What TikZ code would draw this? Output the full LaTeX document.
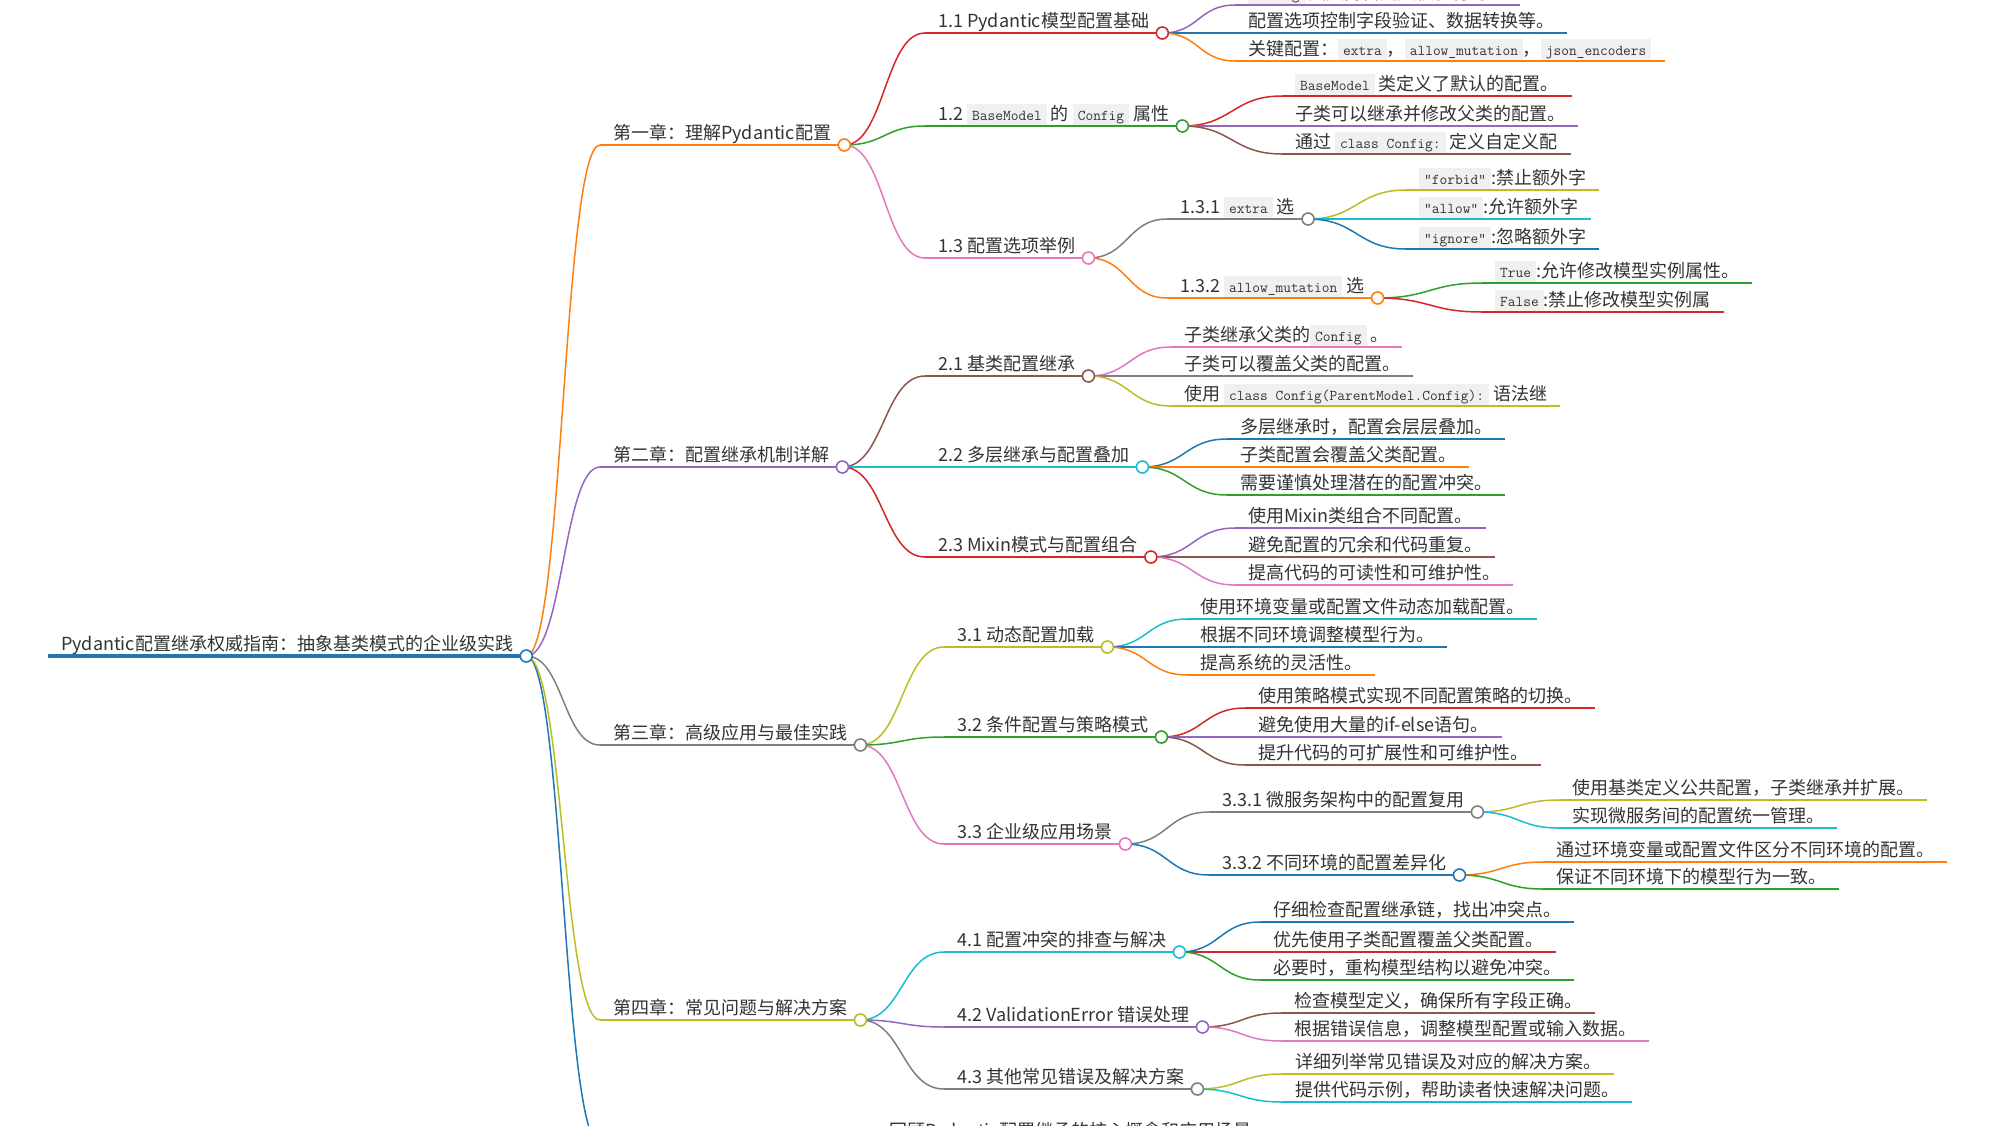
\documentclass[tikz,border=0pt]{standalone}
\usepackage{fontspec}
\setmainfont{Noto Sans CJK SC}
\usetikzlibrary{calc}
\definecolor{mBlue}{HTML}{1F77B4}
\definecolor{mOrange}{HTML}{FF7F0E}
\definecolor{mGreen}{HTML}{2CA02C}
\definecolor{mRed}{HTML}{D62728}
\definecolor{mPurple}{HTML}{9467BD}
\definecolor{mBrown}{HTML}{8C564B}
\definecolor{mPink}{HTML}{E377C2}
\definecolor{mGrey}{HTML}{7F7F7F}
\definecolor{mOlive}{HTML}{BCBD22}
\definecolor{mCyan}{HTML}{17BECF}
\definecolor{codeBg}{HTML}{F0F0F0}
\definecolor{inkText}{HTML}{333333}
\newcommand{\codebox}[1]{{\setlength{\fboxsep}{0pt}\colorbox{codeBg}{\rule[-5.5pt]{0pt}{22pt}\hspace{5pt}\ttfamily\fontsize{15}{16}\selectfont #1\hspace{5pt}}}}

\begin{document}
\begin{tikzpicture}[
    x=1pt, y=-1pt,
    every node/.style = {font=\fontsize{18}{21}\selectfont, text=inkText},
    topic/.style      = {anchor=south west, inner xsep=13pt, inner ysep=5.5pt,
                         text depth=0pt},
    rootline/.style   = {line width=4pt},
    chline/.style     = {line width=2.5pt},
    subline/.style    = {line width=2pt},
    leafline/.style   = {line width=1.5pt},
    link/.style       = {line width=1.5pt},
    dot/.style        = {circle, draw, fill=white, line width=1.6pt,
                         minimum size=12pt, inner sep=0pt},
    mm/.style         = {to path={let \p1=(\tikztostart), \p2=(\tikztotarget) in
                         .. controls ({(\x1+\x2)/2},\y1) and ({(\x1+\x2)/2},\y2) .. (\tikztotarget)}},
  ]
  \useasboundingbox (0,0) rectangle (2000,1125);
  \clip (0,0) rectangle (2000,1125);
  \fill[white] (0,0) rectangle (2000,1125);

  %% Root and chapters
  \node[topic] (root) at (48,656) {Pydantic配置继承权威指南：抽象基类模式的企业级实践};
  \node[topic] (ch1) at (600,145)  {第一章：理解Pydantic配置};
  \node[topic] (ch2) at (600,467)  {第二章：配置继承机制详解};
  \node[topic] (ch3) at (600,745)  {第三章：高级应用与最佳实践};
  \node[topic] (ch4) at (600,1020) {第四章：常见问题与解决方案};
  \coordinate (ch5) at (600,1144);

  %% Chapter 1
  \node[topic] (n11) at (925,33)  {1.1 Pydantic模型配置基础};
  \node[topic] (n12) at (925,126) {1.2 \codebox{BaseModel} 的 \codebox{Config} 属性};
  \node[topic] (n13) at (925,258) {1.3 配置选项举例};
  \node[topic] (n111) at (1235,5)  {\codebox{Config} 类支持自定义校验行为。};
  \node[topic] (n112) at (1235,33) {配置选项控制字段验证、数据转换等。};
  \node[topic] (n113) at (1235,61) {关键配置：\codebox{extra}，\codebox{allow\_mutation}，\codebox{json\_encoders}};
  \node[topic] (n121) at (1282,96)  {\codebox{BaseModel} 类定义了默认的配置。};
  \node[topic] (n122) at (1282,126) {子类可以继承并修改父类的配置。};
  \node[topic] (n123) at (1282,154) {通过 \codebox{class Config:} 定义自定义配};
  \node[topic] (n131) at (1167,219) {1.3.1 \codebox{extra} 选};
  \node[topic] (n132) at (1167,298) {1.3.2 \codebox{allow\_mutation} 选};
  \node[topic] (n1311) at (1406,190) {\codebox{"forbid"}:禁止额外字};
  \node[topic] (n1312) at (1406,219) {\codebox{"allow"}:允许额外字};
  \node[topic] (n1313) at (1406,249) {\codebox{"ignore"}:忽略额外字};
  \node[topic] (n1321) at (1482,283) {\codebox{True}:允许修改模型实例属性。};
  \node[topic] (n1322) at (1482,312) {\codebox{False}:禁止修改模型实例属};

  %% Chapter 2
  \node[topic] (n21) at (925,376) {2.1 基类配置继承};
  \node[topic] (n22) at (925,467) {2.2 多层继承与配置叠加};
  \node[topic] (n23) at (925,557) {2.3 Mixin模式与配置组合};
  \node[topic] (n211) at (1171,347) {子类继承父类的\codebox{Config} 。};
  \node[topic] (n212) at (1171,376) {子类可以覆盖父类的配置。};
  \node[topic] (n213) at (1171,406) {使用 \codebox{class Config(ParentModel.Config):} 语法继};
  \node[topic] (n221) at (1227,439) {多层继承时，配置会层层叠加。};
  \node[topic] (n222) at (1227,467) {子类配置会覆盖父类配置。};
  \node[topic] (n223) at (1227,495) {需要谨慎处理潜在的配置冲突。};
  \node[topic] (n231) at (1235,528) {使用Mixin类组合不同配置。};
  \node[topic] (n232) at (1235,557) {避免配置的冗余和代码重复。};
  \node[topic] (n233) at (1235,585) {提高代码的可读性和可维护性。};

  %% Chapter 3
  \node[topic] (n31) at (944,647) {3.1 动态配置加载};
  \node[topic] (n32) at (944,737) {3.2 条件配置与策略模式};
  \node[topic] (n33) at (944,844) {3.3 企业级应用场景};
  \node[topic] (n311) at (1187,619) {使用环境变量或配置文件动态加载配置。};
  \node[topic] (n312) at (1187,647) {根据不同环境调整模型行为。};
  \node[topic] (n313) at (1187,675) {提高系统的灵活性。};
  \node[topic] (n321) at (1245,708) {使用策略模式实现不同配置策略的切换。};
  \node[topic] (n322) at (1245,737) {避免使用大量的if-else语句。};
  \node[topic] (n323) at (1245,765) {提升代码的可扩展性和可维护性。};
  \node[topic] (n331) at (1209,812) {3.3.1 微服务架构中的配置复用};
  \node[topic] (n332) at (1209,875) {3.3.2 不同环境的配置差异化};
  \node[topic] (n3311) at (1559,800) {使用基类定义公共配置，子类继承并扩展。};
  \node[topic] (n3312) at (1559,828) {实现微服务间的配置统一管理。};
  \node[topic] (n3321) at (1543,862) {通过环境变量或配置文件区分不同环境的配置。};
  \node[topic] (n3322) at (1543,889) {保证不同环境下的模型行为一致。};

  %% Chapter 4
  \node[topic] (n41) at (944,952)  {4.1 配置冲突的排查与解决};
  \node[topic] (n42) at (944,1027) {4.2 ValidationError 错误处理};
  \node[topic] (n43) at (944,1089) {4.3 其他常见错误及解决方案};
  \node[topic] (n411) at (1260,922) {仔细检查配置继承链，找出冲突点。};
  \node[topic] (n412) at (1260,952) {优先使用子类配置覆盖父类配置。};
  \node[topic] (n413) at (1260,980) {必要时，重构模型结构以避免冲突。};
  \node[topic] (n421) at (1281,1013) {检查模型定义，确保所有字段正确。};
  \node[topic] (n422) at (1281,1041) {根据错误信息，调整模型配置或输入数据。};
  \node[topic] (n431) at (1282,1074) {详细列举常见错误及对应的解决方案。};
  \node[topic] (n432) at (1282,1102) {提供代码示例，帮助读者快速解决问题。};

  %% Chapter 5 leaf, cut by the bottom edge
  \node[topic] (n51) at (876,1143) {回顾Pydantic配置继承的核心概念和应用场景};

  %% Underlines
  \draw[rootline, mBlue] (root.south west) -- (root.south east);
  \foreach \n/\c in {ch1/mOrange, ch2/mPurple, ch3/mGrey, ch4/mOlive}
    \draw[chline, color=\c] (\n.south west) -- (\n.south east);
  \foreach \n/\c in {n11/mRed, n12/mGreen, n13/mPink, n131/mGrey, n132/mOrange,
                     n21/mBrown, n22/mCyan, n23/mRed,
                     n31/mOlive, n32/mGreen, n33/mPink, n331/mGrey, n332/mBlue,
                     n41/mCyan, n42/mPurple, n43/mGrey}
    \draw[subline, color=\c] (\n.south west) -- (\n.south east);
  \foreach \n/\c in {n111/mPurple, n112/mBlue, n113/mOrange,
                     n121/mRed, n122/mPurple, n123/mBrown,
                     n1311/mOlive, n1312/mCyan, n1313/mBlue, n1321/mGreen, n1322/mRed,
                     n211/mPink, n212/mGrey, n213/mOlive,
                     n221/mBlue, n222/mOrange, n223/mGreen,
                     n231/mPurple, n232/mBrown, n233/mPink,
                     n311/mCyan, n312/mBlue, n313/mOrange,
                     n321/mRed, n322/mPurple, n323/mBrown,
                     n3311/mOlive, n3312/mCyan, n3321/mOrange, n3322/mGreen,
                     n411/mBlue, n412/mRed, n413/mGreen,
                     n421/mBrown, n422/mPink, n431/mOlive, n432/mCyan}
    \draw[leafline, color=\c] (\n.south west) -- (\n.south east);

  %% Links: parent circle -> child line start
  \draw[link, mBlue] (root.south east) to[mm] (ch5);
  \foreach \a/\b/\c in {root/ch1/mOrange, root/ch2/mPurple, root/ch3/mGrey, root/ch4/mOlive,
      ch1/n11/mRed, ch1/n12/mGreen, ch1/n13/mPink,
      n11/n111/mPurple, n11/n112/mBlue, n11/n113/mOrange,
      n12/n121/mRed, n12/n122/mPurple, n12/n123/mBrown,
      n13/n131/mGrey, n13/n132/mOrange,
      n131/n1311/mOlive, n131/n1312/mCyan, n131/n1313/mBlue,
      n132/n1321/mGreen, n132/n1322/mRed,
      ch2/n21/mBrown, ch2/n22/mCyan, ch2/n23/mRed,
      n21/n211/mPink, n21/n212/mGrey, n21/n213/mOlive,
      n22/n221/mBlue, n22/n222/mOrange, n22/n223/mGreen,
      n23/n231/mPurple, n23/n232/mBrown, n23/n233/mPink,
      ch3/n31/mOlive, ch3/n32/mGreen, ch3/n33/mPink,
      n31/n311/mCyan, n31/n312/mBlue, n31/n313/mOrange,
      n32/n321/mRed, n32/n322/mPurple, n32/n323/mBrown,
      n33/n331/mGrey, n33/n332/mBlue,
      n331/n3311/mOlive, n331/n3312/mCyan,
      n332/n3321/mOrange, n332/n3322/mGreen,
      ch4/n41/mCyan, ch4/n42/mPurple, ch4/n43/mGrey,
      n41/n411/mBlue, n41/n412/mRed, n41/n413/mGreen,
      n42/n421/mBrown, n42/n422/mPink,
      n43/n431/mOlive, n43/n432/mCyan}
    \draw[link, color=\c] (\a.south east) to[mm] (\b.south west);

  %% Circles at the end of every parent line
  \foreach \n/\c in {root/mBlue, ch1/mOrange, ch2/mPurple, ch3/mGrey, ch4/mOlive,
                     n11/mRed, n12/mGreen, n13/mPink, n131/mGrey, n132/mOrange,
                     n21/mBrown, n22/mCyan, n23/mRed,
                     n31/mOlive, n32/mGreen, n33/mPink, n331/mGrey, n332/mBlue,
                     n41/mCyan, n42/mPurple, n43/mGrey}
    \node[dot, draw=\c] (\n-dot) at (\n.south east) {};

\end{tikzpicture}
\end{document}
